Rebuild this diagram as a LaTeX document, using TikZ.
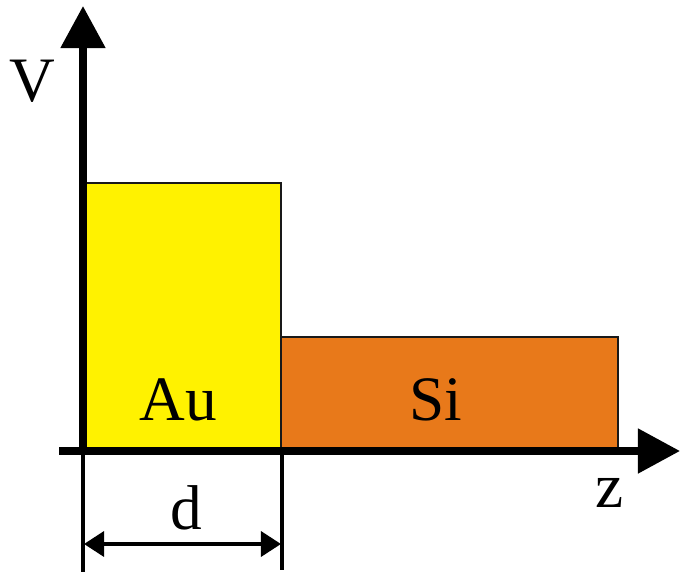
\documentclass[tikz,border=0pt]{standalone}
\usepackage{fontspec}
\setmainfont{Liberation Serif}
\usetikzlibrary{arrows.meta}
\definecolor{auyellow}{RGB}{255,242,0}
\definecolor{siorange}{RGB}{232,121,26}
\tikzset{
  axis/.style={line width=5.3pt,-{Triangle[length=1.05cm,width=1.08cm]}},
  layer/.style={draw=black!90,line width=1pt},
  tick/.style={line width=2.5pt},
  dim/.style={line width=2.8pt,{Triangle[length=.5cm,width=.62cm]}-{Triangle[length=.5cm,width=.62cm]}},
  lbl/.style={font=\fontsize{45}{50}\selectfont,inner sep=0pt}
}
\begin{document}
\begin{tikzpicture}[x=.025cm,y=-.025cm]
\useasboundingbox (0,0) rectangle (680,573);
\path[layer,fill=auyellow] (86,183) rectangle (281,451);
\path[layer,fill=siorange] (281,337) rectangle (618,451);
\coordinate (origin) at (83,455);
\coordinate (vtop) at (83,6);
\coordinate (hleft) at (59,451);
\coordinate (hright) at (680,451);
\draw[axis] (origin) -- (vtop);
\draw[axis] (hleft) -- (hright);
\coordinate (tickA) at (83,451);
\coordinate (tickAend) at (83,572);
\coordinate (tickB) at (282,451);
\coordinate (tickBend) at (282,570);
\draw[tick] (tickA) -- (tickAend);
\draw[tick] (tickB) -- (tickBend);
\coordinate (dimA) at (84,544);
\coordinate (dimB) at (281,544);
\draw[dim] (dimA) -- (dimB);
\node[lbl] (vlabel) at (32,81) {V};
\node[lbl] (au) at (178,400) {Au};
\node[lbl] (si) at (436,400) {Si};
\node[lbl,anchor=base] (zlabel) at (610,507) {z};
\node[lbl,anchor=base] (dlabel) at (186,529) {d};
\end{tikzpicture}
\end{document}
